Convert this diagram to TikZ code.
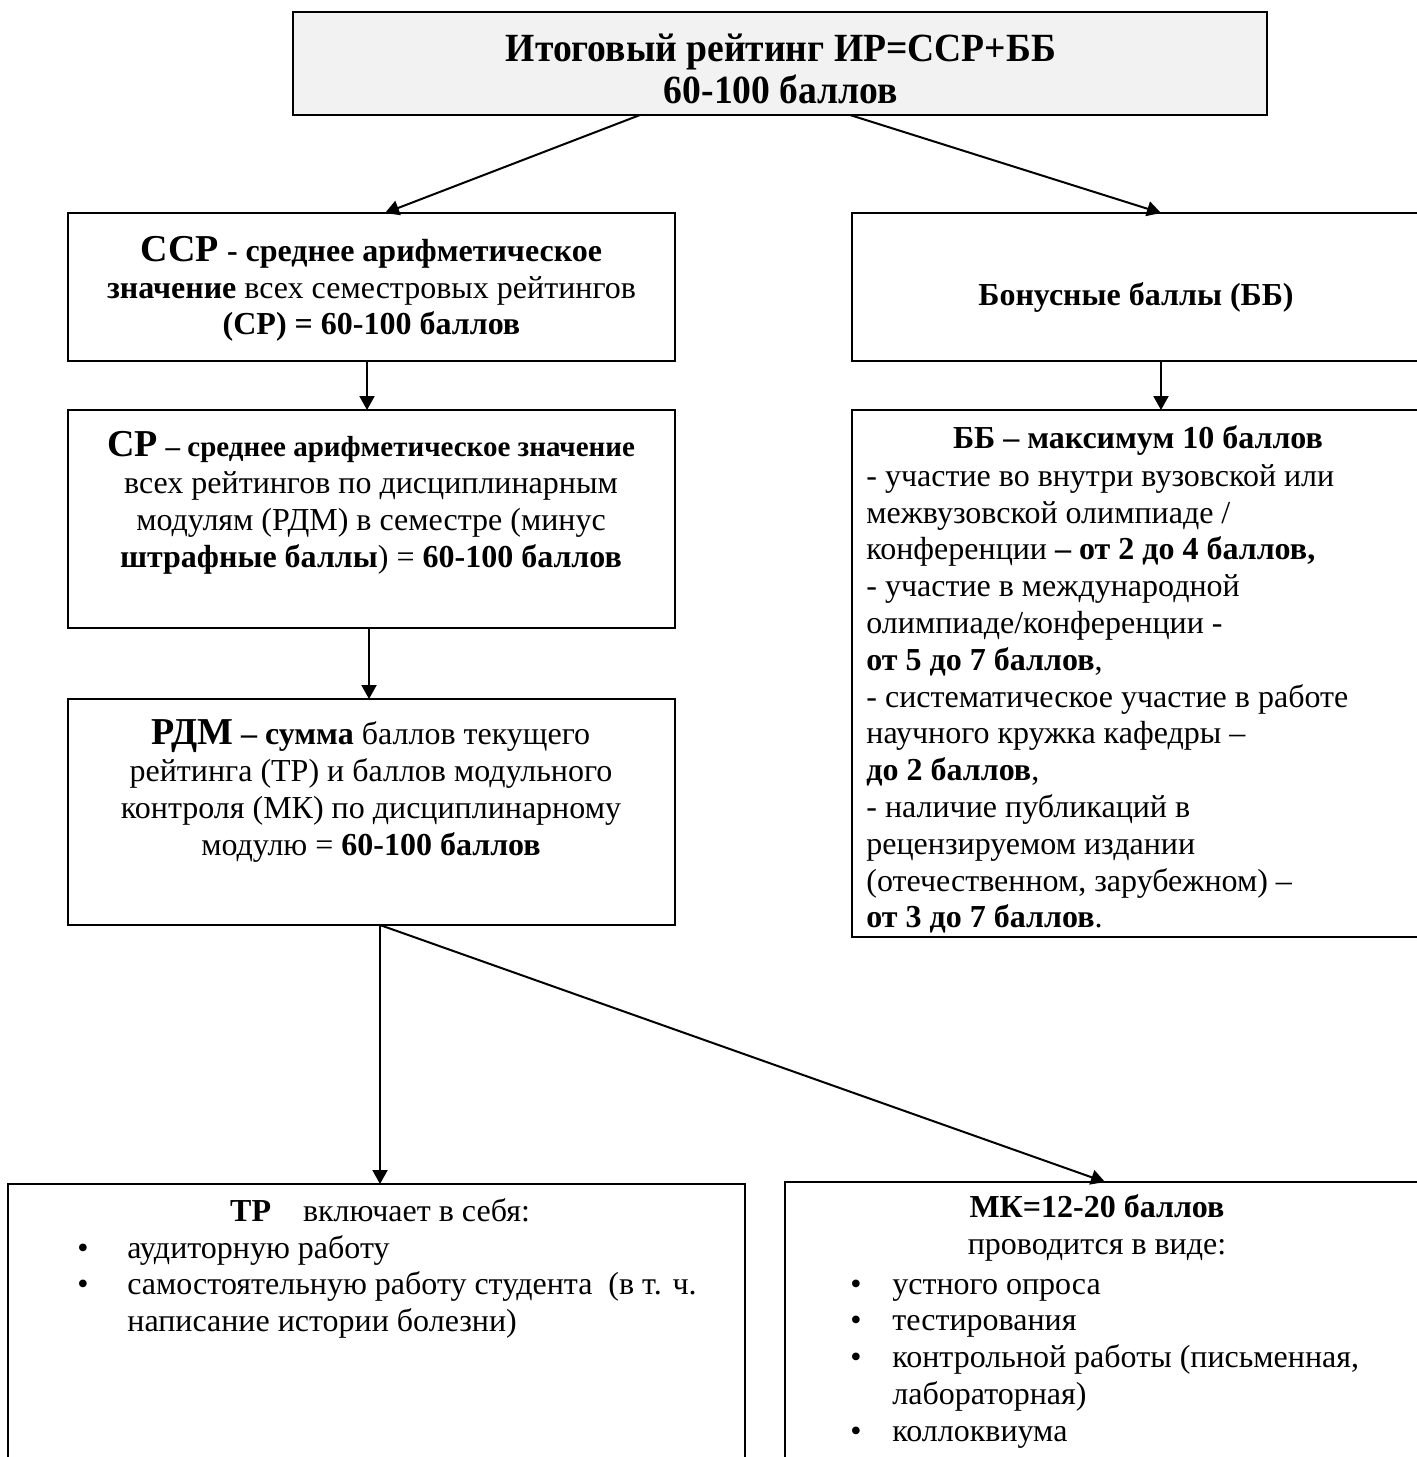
\documentclass[tikz,border=0pt]{standalone}
\usepackage{fontspec}
\setmainfont{Liberation Serif}
\newfontfamily\condserif{Liberation Serif}[FakeStretch=0.94]
\usetikzlibrary{arrows.meta}
\begin{document}
\begin{tikzpicture}[x=0.5pt,y=-0.5pt,
  box/.style={draw, line width=0.75pt, inner sep=0pt, outer sep=0pt},
  arr/.style={-{Triangle[width=7.5pt,length=7pt]}, line width=1pt},
  txt/.style={font=\fontsize{16}{18.4}\selectfont, inner sep=0pt},
  big/.style={font=\condserif\fontsize{20}{21}\selectfont\bfseries, inner sep=0pt, align=center},
]
\useasboundingbox (0,0) rectangle (1417,1457);
\clip (0,0) rectangle (1417,1457);

% boxes
\node[box, fill=black!5, minimum width=487pt, minimum height=51.5pt] (top) at (780,63.5) {};
\node[box, minimum width=303.5pt, minimum height=74pt] (ccp) at (371.5,287) {};
\node[box, minimum width=309pt, minimum height=74pt] (bbh) at (1161,287) {};
\node[box, minimum width=303.5pt, minimum height=109pt] (cp) at (371.5,519) {};
\node[box, minimum width=309pt, minimum height=263.5pt] (bbd) at (1161,673.5) {};
\node[box, minimum width=303.5pt, minimum height=113pt] (rdm) at (371.5,812) {};
\node[box, minimum width=368.5pt, minimum height=158pt] (tp) at (376.5,1342) {};
\node[box, minimum width=342.5pt, minimum height=159pt] (mk) at (1127.5,1341) {};

% texts
\node[big] (toptxt) at (781,69) {Итоговый рейтинг ИР=ССР+ББ\\60-100 баллов};

\node[txt, align=center] (ccptxt) at (371.5,289)
  {{\fontsize{19}{21}\selectfont\bfseries ССР} \textbf{- среднее арифметическое}\\
   \textbf{значение} всех семестровых рейтингов\\
   \textbf{(СР) = 60-100 баллов}};

\node[txt, font=\fontsize{16}{18.4}\selectfont\bfseries] (bbhtxt) at (1136,297) {Бонусные баллы (ББ)};

\node[txt, align=center] (cptxt) at (371,503)
  {{\fontsize{19}{21}\selectfont\bfseries СР} {\fontsize{14.5}{18.4}\selectfont\bfseries – среднее арифметическое значение}\\
   всех рейтингов по дисциплинарным\\
   модулям (РДМ) в семестре (минус\\
   \textbf{штрафные баллы}) = \textbf{60-100 баллов}};

\node[txt, align=center] (rdmtxt) at (371,791)
  {{\fontsize{19}{21}\selectfont\bfseries РДМ} \textbf{– сумма} баллов текущего\\
   рейтинга (ТР) и баллов модульного\\
   контроля (МК) по дисциплинарному\\
   модулю = \textbf{60-100 баллов}};

\node[txt, font=\fontsize{16}{18.4}\selectfont\bfseries] (bbdtitle) at (1138,440) {ББ – максимум 10 баллов};
\node[txt, align=left, anchor=west] (bbdtxt) at (866,699)
  {- участие во внутри вузовской или\\
   межвузовской олимпиаде /\\
   конференции \textbf{– от 2 до 4 баллов,}\\
   - участие в международной\\
   олимпиаде/конференции -\\
   \textbf{от 5 до 7 баллов},\\
   - систематическое участие в работе\\
   научного кружка кафедры –\\
   \textbf{до 2 баллов},\\
   - наличие публикаций в\\
   рецензируемом издании\\
   (отечественном, зарубежном) –\\
   \textbf{от 3 до 7 баллов}.};

\node[txt] (tptitle) at (380,1210) {\textbf{ТР}\quad включает в себя:};
\node[txt, anchor=north west] (tplist) at (77,1232)
  {\renewcommand{\arraystretch}{1}\begin{tabular}{@{}p{25pt}@{}l@{}}
   • & аудиторную работу\\
   • & самостоятельную работу студента\ \ (в т. ч.\\
     & написание истории болезни)
   \end{tabular}};

\node[txt, align=center] (mktitle) at (1097,1228) {\textbf{МК=12-20 баллов}\\проводится в виде:};
\node[txt, anchor=north west] (mklist) at (850,1268)
  {\renewcommand{\arraystretch}{1}\begin{tabular}{@{}p{21pt}@{}l@{}}
   • & устного опроса\\
   • & тестирования\\
   • & контрольной работы (письменная,\\
     & лабораторная)\\
   • & коллоквиума
   \end{tabular}};

% connectors
\draw[arr] ([xshift=-70pt]top.south) -- ([xshift=6.75pt]ccp.north);
\draw[arr] ([xshift=35pt]top.south) -- (bbh.north);
\draw[arr] ([xshift=-2.25pt]ccp.south) -- ([xshift=-2.25pt]cp.north);
\draw[arr] (bbh.south) -- (bbd.north);
\draw[arr] ([xshift=-1.25pt]cp.south) -- ([xshift=-1.25pt]rdm.north);
\draw[arr] ([xshift=4.25pt]rdm.south) -- ([xshift=1.75pt]tp.north);
\draw[arr] ([xshift=4.25pt]rdm.south) -- ([xshift=-11.25pt]mk.north);
\end{tikzpicture}
\end{document}
